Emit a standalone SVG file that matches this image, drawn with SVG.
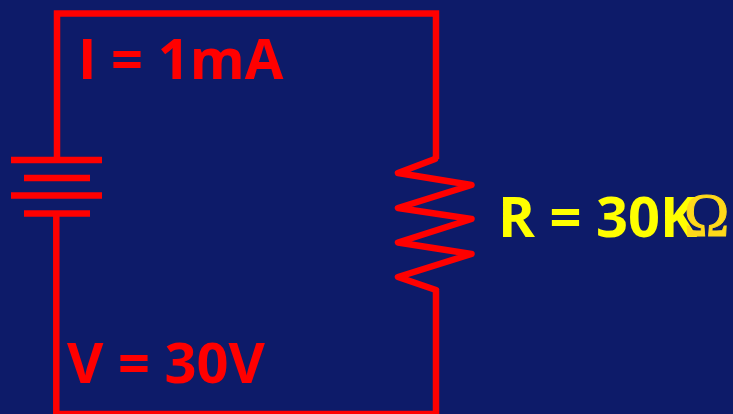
<svg xmlns="http://www.w3.org/2000/svg" width="733" height="414" viewBox="0 0 733 414">
<style>
.w{fill:none;stroke:#ff0000;stroke-width:6.5}
.t{font-family:"Open Sans","Noto Sans",sans-serif;font-weight:700;font-size:56px}
</style>
<rect width="733" height="414" fill="#0d1b69"/>
<g id="connectors">
<path class="w" d="M436 159V13.500H57V160"/>
<path class="w" d="M56.300 214V414H436V291"/>
</g>
<g id="battery">
<path class="w" d="M11 160H102M24 178H90M11 195.500H102M24 213.500H90"/>
</g>
<g id="resistor">
<path class="w" stroke-linejoin="round" stroke-linecap="round" d="M435 159L398 173L471.500 185L398 208L471.500 219L398 242.500L471.500 254L398 277L436 290"/>
</g>
<g id="label-current"><text class="t" x="78" y="79" fill="#ff0000">I = 1mA</text></g>
<g id="label-voltage"><text class="t" x="67" y="383" fill="#ff0000">V = 30V</text></g>
<g id="label-resistance">
<text class="t" x="498" y="237" fill="#ffff00">R = 30K</text>
<text x="684" y="235" font-family="'Liberation Serif',serif" font-size="61px" fill="#ffd91a" stroke="#ffd91a" stroke-width="1">Ω</text>
</g>
</svg>
